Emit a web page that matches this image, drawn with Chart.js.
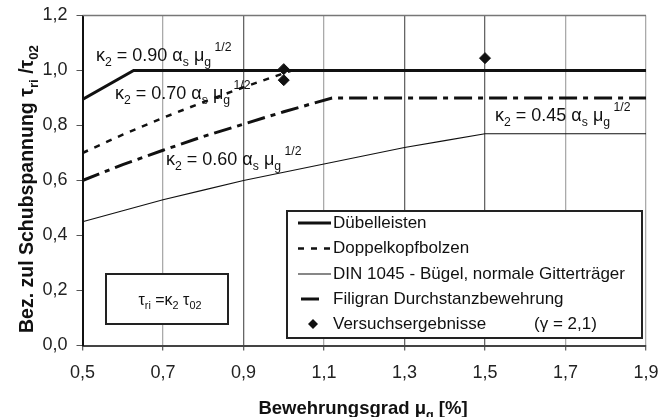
<!DOCTYPE html>
<html><head><meta charset="utf-8">
<script src="https://cdn.jsdelivr.net/npm/chart.js@4.4.1/dist/chart.umd.min.js"></script>
<style>html,body{margin:0;padding:0;background:#fff}#wrap{width:659px;height:417px}</style>
</head><body><div id="wrap"><canvas id="c" width="659" height="417"></canvas></div>
<script>
// ---- data ----
const xTicks = [0.5, 0.7, 0.9, 1.1, 1.3, 1.5, 1.7, 1.9];
const yTicks = [0.0, 0.2, 0.4, 0.6, 0.8, 1.0, 1.2];
const duebelX = [0.5, 0.627, 1.9];
const duebelY = [0.895, 1.0, 1.0];
const doppelX = [0.5, 0.6, 0.7, 0.8, 0.9, 1.0, 1.02, 1.9];
const doppelY = [0.70, 0.767, 0.828, 0.885, 0.939, 0.99, 1.0, 1.0];
const dinX = [0.5, 0.6, 0.7, 0.8, 0.9, 1.0, 1.1, 1.2, 1.3, 1.4, 1.5, 1.9];
const dinY = [0.45, 0.49, 0.53, 0.565, 0.60, 0.63, 0.66, 0.69, 0.72, 0.745, 0.77, 0.77];
const filigranX = [0.5, 0.6, 0.7, 0.8, 0.9, 1.0, 1.12, 1.9];
const filigranY = [0.60, 0.658, 0.71, 0.76, 0.805, 0.85, 0.90, 0.90];
const testX = [1.0, 1.0, 1.5];
const testY = [1.005, 0.965, 1.045];
const seriesNames = ['Dübelleisten', 'Doppelkopfbolzen', 'DIN 1045 - Bügel, normale Gitterträger', 'Filigran Durchstanzbewehrung', 'Versuchsergebnisse'];

const FONT = '"Liberation Sans", Arial, sans-serif';
const pts = (xs, ys) => xs.map((x, i) => ({x, y: ys[i]}));
const darkGrid = [0.9, 1.3, 1.5];

function rich(ctx, x, y, segs, size, align, bold) {
  const w = bold ? 'bold ' : '';
  let total = 0;
  const meas = segs.map(([t, m]) => {
    const s = m ? size * 0.68 : size;
    ctx.font = w + s + 'px ' + FONT;
    const wd = ctx.measureText(t).width;
    total += wd;
    return wd;
  });
  let cx = align === 'center' ? x - total / 2 : x;
  ctx.textBaseline = 'alphabetic';
  ctx.textAlign = 'left';
  segs.forEach(([t, m], i) => {
    const s = m ? size * 0.68 : size;
    ctx.font = w + s + 'px ' + FONT;
    const dy = m === 'sub' ? size * 0.28 : (m === 'sup' ? -size * 0.55 : 0);
    ctx.fillText(t, cx, y + dy);
    cx += meas[i];
  });
}

const overlay = {
  id: 'overlay',
  afterDatasetsDraw(chart) {
    const ctx = chart.ctx, a = chart.chartArea;
    ctx.save();
    // top border
    ctx.strokeStyle = '#777'; ctx.lineWidth = 1.5;
    ctx.beginPath(); ctx.moveTo(a.left, a.top); ctx.lineTo(a.right, a.top); ctx.stroke();
    ctx.fillStyle = '#111';
    // curve labels
    const k = (v) => [['κ',''],['2','sub'],[' = ' + v + ' ',''],['α',''],['s','sub'],[' μ',''],['g','sub'],[' 1/2','sup']];
    rich(ctx, 96, 61, k('0.90'), 18, 'left');
    rich(ctx, 115, 99, k('0.70'), 18, 'left');
    rich(ctx, 166, 165, k('0.60'), 18, 'left');
    rich(ctx, 495, 121, k('0.45'), 18, 'left');
    // formula box
    ctx.fillStyle = '#fff'; ctx.fillRect(106, 274, 122, 50);
    ctx.strokeStyle = '#222'; ctx.lineWidth = 2; ctx.strokeRect(106, 274, 122, 50);
    ctx.fillStyle = '#111';
    rich(ctx, 170, 305, [['τ',''],['ri','sub'],[' =κ',''],['2','sub'],[' τ',''],['02','sub']], 16, 'center');
    // legend
    const L = {x: 287, y: 211, w: 355, h: 127};
    ctx.fillStyle = '#fff'; ctx.fillRect(L.x, L.y, L.w, L.h);
    ctx.strokeStyle = '#222'; ctx.lineWidth = 2; ctx.strokeRect(L.x, L.y, L.w, L.h);
    const rows = [223, 248.5, 274, 299, 324];
    const styles = [
      {w: 3, d: []}, {w: 2.5, d: [6, 7]}, {w: 1.2, d: []}, {w: 3, d: [18, 6, 5, 6]}, null
    ];
    rows.forEach((ry, i) => {
      const st = styles[i];
      ctx.strokeStyle = '#111';
      if (st) {
        ctx.lineWidth = st.w; ctx.setLineDash(st.d);
        ctx.beginPath();
        if (i === 3) { ctx.moveTo(301, ry); ctx.lineTo(321, ry); }
        else { ctx.moveTo(298, ry); ctx.lineTo(331, ry); }
        ctx.stroke(); ctx.setLineDash([]);
      } else {
        ctx.fillStyle = '#111';
        ctx.beginPath(); ctx.moveTo(313, ry - 5); ctx.lineTo(318, ry); ctx.lineTo(313, ry + 5); ctx.lineTo(308, ry); ctx.closePath(); ctx.fill();
      }
      ctx.fillStyle = '#111'; ctx.font = '17px ' + FONT; ctx.textBaseline = 'middle'; ctx.textAlign = 'left';
      ctx.fillText(seriesNames[i], 333, ry);
    });
    ctx.fillText('(γ = 2,1)', 534, 324);
    // axis titles
    ctx.fillStyle = '#111';
    rich(ctx, 363, 414, [['Bewehrungsgrad μ',''],['g','sub'],[' [%]','']], 18.5, 'center', true);
    ctx.translate(33, 189); ctx.rotate(-Math.PI / 2);
    rich(ctx, 0, 0, [['Bez. zul Schubspannung τ',''],['ri','sub'],[' /τ',''],['02','sub']], 19.5, 'center', true);
    ctx.restore();
  }
};

const lineDs = (label, data, w, dash) => ({
  type: 'line', label, data, borderColor: '#111', borderWidth: w, borderDash: dash,
  pointRadius: 0, fill: false, tension: 0
});

new Chart(document.getElementById('c'), {
  type: 'scatter',
  data: {
    datasets: [
      lineDs(seriesNames[1], pts(doppelX, doppelY), 2.5, [6, 7]),
      lineDs(seriesNames[2], pts(dinX, dinY), 1.2, []),
      lineDs(seriesNames[3], pts(filigranX, filigranY), 3, [18, 6, 5, 6]),
      lineDs(seriesNames[0], pts(duebelX, duebelY), 3, []),
      {label: seriesNames[4], data: pts(testX, testY), pointStyle: 'rectRot', pointRadius: 5.5,
       backgroundColor: '#111', borderColor: '#111', showLine: false}
    ]
  },
  options: {
    responsive: false, animation: false, devicePixelRatio: 1,
    layout: {padding: {left: 0, right: 13, top: 15.5, bottom: 0}},
    plugins: {legend: {display: false}, tooltip: {enabled: false}},
    scales: {
      x: {
        type: 'linear', min: 0.5, max: 1.9,
        afterBuildTicks: (s) => { s.ticks = xTicks.map(v => ({value: v})); },
        afterFit: (s) => { s.height = 71.5; s.paddingLeft = 0; s.paddingRight = 0; },
        ticks: {font: {size: 18, family: FONT}, color: '#222', padding: 12,
                callback: (v) => v.toFixed(1).replace('.', ',')},
        grid: {color: (c) => (c.tick && darkGrid.includes(+c.tick.value.toFixed(1))) ? '#666' : '#aaa',
               lineWidth: 1.3, tickLength: 5, tickColor: '#666'},
        border: {color: '#444', width: 2}
      },
      y: {
        min: 0, max: 1.2,
        afterBuildTicks: (s) => { s.ticks = yTicks.map(v => ({value: v})); },
        afterFit: (s) => { s.width = 82.5; s.paddingTop = 0; s.paddingBottom = 0; },
        ticks: {font: {size: 18, family: FONT}, color: '#222', padding: 9,
                callback: (v) => v.toFixed(1).replace('.', ',')},
        grid: {drawOnChartArea: false, tickLength: 6, tickColor: '#555'},
        border: {color: '#111', width: 2}
      }
    }
  },
  plugins: [overlay]
});
</script></body></html>
